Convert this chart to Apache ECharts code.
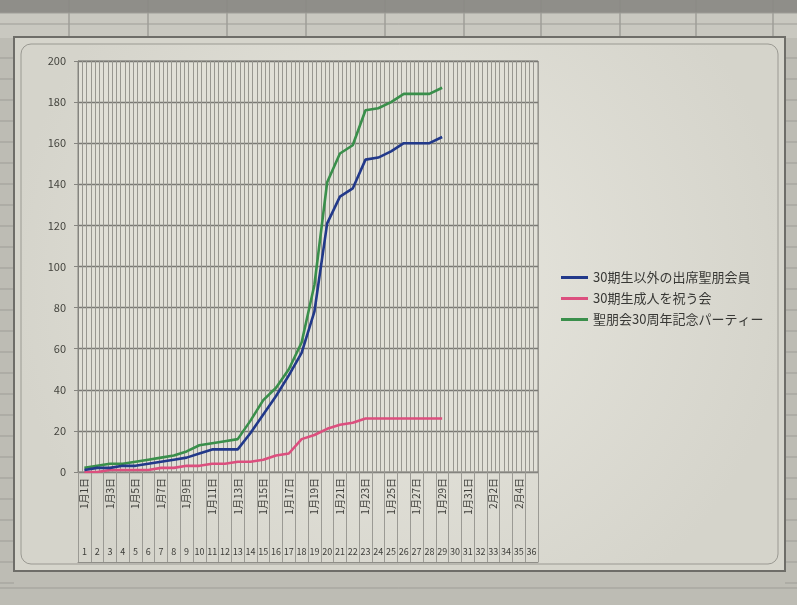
<!DOCTYPE html>
<html>
<head>
<meta charset="utf-8">
<script src="https://cdn.jsdelivr.net/npm/echarts@6/dist/echarts.min.js"></script>
<style>
  html, body { margin: 0; padding: 0; background: #c3c2ba; }
  #chart { width: 797px; height: 605px; }
</style>
</head>
<body>
<div id="chart"></div>
<script>
// Category rows under the plot: the date and the running day number
const dates = [
  '1月1日','1月2日','1月3日','1月4日','1月5日','1月6日','1月7日','1月8日','1月9日','1月10日',
  '1月11日','1月12日','1月13日','1月14日','1月15日','1月16日','1月17日','1月18日','1月19日','1月20日',
  '1月21日','1月22日','1月23日','1月24日','1月25日','1月26日','1月27日','1月28日','1月29日','1月30日',
  '1月31日','2月1日','2月2日','2月3日','2月4日','2月5日'
];
const dayNumbers = [
  '1','2','3','4','5','6','7','8','9','10','11','12','13','14','15','16','17','18',
  '19','20','21','22','23','24','25','26','27','28','29','30','31','32','33','34','35','36'
];

// Cumulative counts per day
const seriesNames = ['30期生以外の出席聖朋会員', '30期生成人を祝う会', '聖朋会30周年記念パーティー'];
const otherMembers = [1,2,2,3,3,4,5,6,7,9,11,11,11,19,28,37,47,58,78,121,134,138,152,153,156,160,160,160,163];
const comingOfAge  = [0,0,1,1,1,1,2,2,3,3,4,4,5,5,6,8,9,16,18,21,23,24,26,26,26,26,26,26,26];
const anniversary  = [2,3,4,4,5,6,7,8,10,13,14,15,16,25,35,41,50,63,91,141,155,159,176,177,180,184,184,184,187];

const FONT = '"Noto Sans CJK JP", "Noto Sans", sans-serif';

// Spreadsheet backdrop around the embedded chart object
const backdrop = [];
backdrop.push({ type: 'rect', z: -30, shape: { x: 0, y: 0, width: 797, height: 605 }, style: { fill: '#bdbcb4' } });
backdrop.push({ type: 'rect', z: -29, shape: { x: 0, y: 0, width: 797, height: 13 }, style: { fill: '#8f8e89' } });
backdrop.push({ type: 'rect', z: -29, shape: { x: 0, y: 13, width: 797, height: 25 }, style: { fill: '#c9c8c0' } });
[69, 148, 227, 306, 385, 464, 541, 620, 696, 773].forEach(function (cx) {
  backdrop.push({ type: 'line', z: -28, shape: { x1: cx, y1: 0, x2: cx, y2: 38 }, style: { stroke: '#8a8984', lineWidth: 1 } });
});
[13, 24].forEach(function (ry) {
  backdrop.push({ type: 'line', z: -28, shape: { x1: 0, y1: ry, x2: 797, y2: ry }, style: { stroke: '#9e9d97', lineWidth: 1 } });
});
for (let ry = 58; ry < 600; ry += 21) {
  backdrop.push({ type: 'line', z: -28, shape: { x1: 0, y1: ry, x2: 14, y2: ry }, style: { stroke: '#9e9d97', lineWidth: 1 } });
  backdrop.push({ type: 'line', z: -28, shape: { x1: 785, y1: ry, x2: 797, y2: ry }, style: { stroke: '#9e9d97', lineWidth: 1 } });
}
backdrop.push({ type: 'line', z: -28, shape: { x1: 0, y1: 588, x2: 797, y2: 588 }, style: { stroke: '#9e9d97', lineWidth: 1 } });
// chart object frame
backdrop.push({ type: 'rect', z: -27, shape: { x: 14, y: 37, width: 771, height: 534 },
  style: { fill: '#d6d5cc', stroke: '#6e6d68', lineWidth: 2 } });
backdrop.push({ type: 'rect', z: -26, shape: { x: 21, y: 44, width: 757, height: 520, r: 10 },
  style: {
    fill: { type: 'radial', x: 0.5, y: 0.45, r: 0.75,
      colorStops: [{ offset: 0, color: '#e8e7df' }, { offset: 1, color: '#d5d4cb' }] },
    stroke: '#9a9992', lineWidth: 1
  } });

const chart = echarts.init(document.getElementById('chart'), null, { renderer: 'canvas' });

chart.setOption({
  animation: false,
  backgroundColor: 'transparent',
  textStyle: { fontFamily: FONT },
  graphic: { elements: backdrop },
  grid: {
    left: 78, right: 259, top: 61, bottom: 133,
    show: true, backgroundColor: '#e1e0d7', borderColor: '#85847f', borderWidth: 1,
    outerBoundsMode: 'none'
  },
  legend: {
    orient: 'vertical',
    left: 556, top: 266,
    itemWidth: 27, itemHeight: 3, itemGap: 8,
    icon: 'rect',
    data: seriesNames,
    textStyle: { fontFamily: FONT, fontSize: 13, color: '#383835' }
  },
  xAxis: [
    {
      type: 'category', data: dates, boundaryGap: true,
      axisLine: { show: true, lineStyle: { color: '#85847f' } },
      axisTick: { show: true, interval: 0, length: 90, lineStyle: { color: '#9b9a94' } },
      axisLabel: { interval: 1, rotate: 90, fontSize: 10, color: '#3d3d39', margin: 6, fontFamily: FONT },
      splitLine: { show: false }
    },
    {
      type: 'category', data: dayNumbers, boundaryGap: true, position: 'bottom', offset: 90,
      axisLine: { show: true, lineStyle: { color: '#8f8e88' } },
      axisTick: { show: false },
      axisLabel: { interval: 0, inside: true, fontSize: 9, color: '#3d3d39', margin: 6, fontFamily: FONT },
      splitLine: { show: false }
    },
    {
      // fine vertical rules across the plot area
      type: 'value', min: 0, max: 108, interval: 1, position: 'top',
      axisLine: { show: false }, axisTick: { show: false }, axisLabel: { show: false },
      splitLine: { show: true, lineStyle: { color: '#989790', width: 1 } }
    }
  ],
  yAxis: {
    type: 'value', min: 0, max: 200, interval: 20,
    axisLine: { show: true, lineStyle: { color: '#85847f' } },
    axisTick: { show: true, length: 4, lineStyle: { color: '#85847f' } },
    axisLabel: { fontSize: 11, color: '#45453f', margin: 12, fontFamily: FONT },
    splitLine: { show: true, lineStyle: { color: '#7a7974', width: 1.3 } }
  },
  series: [
    { name: seriesNames[0], type: 'line', xAxisIndex: 0, data: otherMembers, symbol: 'none',
      lineStyle: { width: 2.6, color: '#22398a' }, itemStyle: { color: '#22398a' }, z: 4 },
    { name: seriesNames[1], type: 'line', xAxisIndex: 0, data: comingOfAge, symbol: 'none',
      lineStyle: { width: 2.6, color: '#dc4f7e' }, itemStyle: { color: '#dc4f7e' }, z: 3 },
    { name: seriesNames[2], type: 'line', xAxisIndex: 0, data: anniversary, symbol: 'none',
      lineStyle: { width: 2.6, color: '#3a8f4b' }, itemStyle: { color: '#3a8f4b' }, z: 3 }
  ]
});
</script>
</body>
</html>
